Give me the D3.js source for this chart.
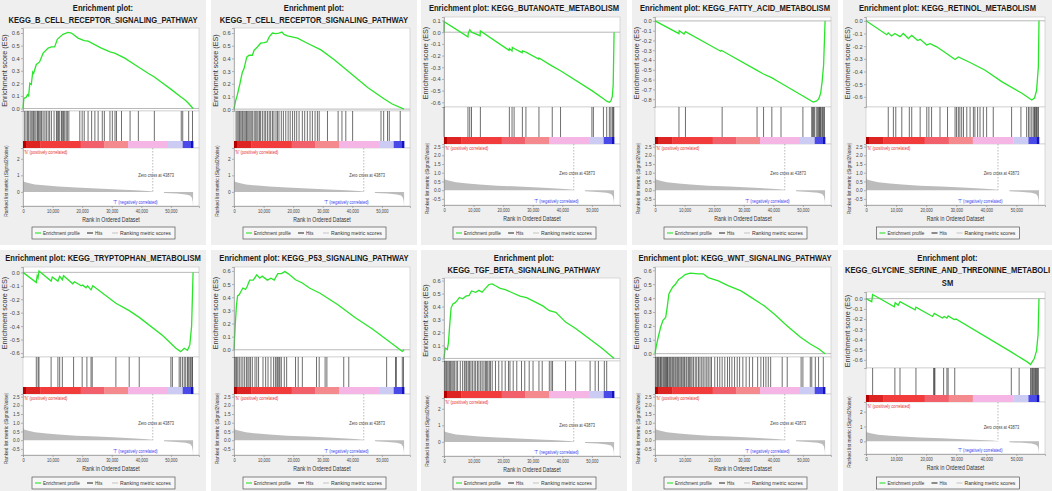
<!DOCTYPE html>
<html>
<head>
<meta charset="utf-8">
<script src="https://cdn.jsdelivr.net/npm/d3@7"></script>
<style>
  body { margin: 0; background: #fff; }
  text { font-family: "Liberation Sans", Arial, sans-serif; }
</style>
</head>
<body>
<svg id="chart" width="1052" height="491"></svg>
<script>
// ranks are in thousands (57.5 = 57,500 genes in the ordered list)
const N = 57.5;
const zeroCross = 43.873;

const titles = [
  ["Enrichment plot:", "KEGG_B_CELL_RECEPTOR_SIGNALING_PATHWAY"],
  ["Enrichment plot:", "KEGG_T_CELL_RECEPTOR_SIGNALING_PATHWAY"],
  ["Enrichment plot: KEGG_BUTANOATE_METABOLISM"],
  ["Enrichment plot: KEGG_FATTY_ACID_METABOLISM"],
  ["Enrichment plot: KEGG_RETINOL_METABOLISM"],
  ["Enrichment plot: KEGG_TRYPTOPHAN_METABOLISM"],
  ["Enrichment plot: KEGG_P53_SIGNALING_PATHWAY"],
  ["Enrichment plot:", "KEGG_TGF_BETA_SIGNALING_PATHWAY"],
  ["Enrichment plot: KEGG_WNT_SIGNALING_PATHWAY"],
  ["Enrichment plot:", "KEGG_GLYCINE_SERINE_AND_THREONINE_METABOLI", "SM"]
];

// running enrichment score: [rank (k), ES]
const esBcell = [[0,0],[0.3,0.08],[1.1,0.09],[1.5,0.11],[1.9,0.1],[2.3,0.2],[2.8,0.19],[3.3,0.29],[3.6,0.28],[4.5,0.35],[5.6,0.37],[6.8,0.44],[8.5,0.48],[9.6,0.49],[10.7,0.49],[11.6,0.55],[13.5,0.59],[15.2,0.605],[16.4,0.6],[18.6,0.56],[20.7,0.54],[22.0,0.535],[26.5,0.48],[29.4,0.45],[31.0,0.44],[34.4,0.4],[39.0,0.33],[42.3,0.28],[44.4,0.25],[50.2,0.15],[53.5,0.09],[54.7,0.07],[56.0,0.04],[57.5,0]];
const esTcell = [[0,0],[0.6,0.07],[1.1,0.11],[2.0,0.2],[2.8,0.29],[3.4,0.32],[4.3,0.41],[5.1,0.425],[6.2,0.425],[6.8,0.465],[7.9,0.49],[9.0,0.52],[10.2,0.525],[11.1,0.53],[11.9,0.57],[13.0,0.6],[14.1,0.595],[15.2,0.6],[16.2,0.608],[16.9,0.59],[18.1,0.578],[21.5,0.56],[24.8,0.52],[29.4,0.467],[33.9,0.39],[39.5,0.28],[45.2,0.17],[50.8,0.08],[53.5,0.04],[57.5,0]];
const esButanoate = [[0,0],[0.05,0.09],[8.1,-0.04],[8.2,-0.01],[8.7,0.02],[9.3,0.0],[12.2,-0.03],[12.3,0.01],[22.0,-0.155],[22.1,-0.14],[23.0,-0.16],[23.1,-0.13],[23.7,-0.14],[26.4,-0.175],[26.5,-0.16],[27.7,-0.17],[32.0,-0.23],[32.1,-0.22],[36.6,-0.29],[39.4,-0.33],[50.0,-0.5],[53.9,-0.57],[55.0,-0.59],[55.9,-0.6],[56.4,-0.59],[56.9,-0.55],[57.2,-0.45],[57.5,0]];
const esFatty = [[0,0],[8.1,-0.13],[8.2,-0.1],[9.8,-0.135],[10.3,-0.11],[22.2,-0.31],[22.4,-0.3],[34.2,-0.5],[36.5,-0.54],[39.4,-0.58],[42.2,-0.63],[49.0,-0.75],[53.5,-0.83],[54.5,-0.82],[55.3,-0.8],[56.0,-0.74],[56.5,-0.62],[57.0,-0.45],[57.5,0]];
const esRetinol = [[0,0],[6.9,-0.11],[7.4,-0.095],[8.5,-0.12],[9.6,-0.1],[11.3,-0.125],[12.4,-0.1],[14.1,-0.14],[15.2,-0.115],[17.2,-0.155],[18.0,-0.145],[20.2,-0.19],[21.3,-0.18],[23.5,-0.205],[26.3,-0.25],[29.6,-0.305],[30.7,-0.285],[35.1,-0.335],[39.6,-0.39],[45.1,-0.48],[51.7,-0.57],[55.1,-0.625],[56.0,-0.61],[56.7,-0.55],[57.3,-0.36],[57.5,0]];
const esTrypto = [[0,0],[4.5,-0.075],[4.8,-0.025],[5.1,-0.04],[5.4,0.01],[9.5,-0.065],[9.9,-0.035],[11.8,-0.065],[12.4,-0.03],[13.3,-0.055],[13.7,-0.025],[16.8,-0.085],[17.4,-0.07],[19.7,-0.1],[20.2,-0.095],[21.3,-0.115],[21.8,-0.1],[23.0,-0.13],[23.6,-0.1],[31.4,-0.23],[35.9,-0.285],[39.3,-0.335],[47.2,-0.47],[51.7,-0.565],[53.3,-0.59],[54.5,-0.565],[55.6,-0.58],[56.4,-0.54],[57.0,-0.4],[57.5,0]];
const esP53 = [[0,0],[0.4,0.18],[0.8,0.33],[1.2,0.41],[1.8,0.42],[2.4,0.445],[3.0,0.47],[3.9,0.46],[4.4,0.48],[5.3,0.53],[6.5,0.53],[7.7,0.57],[8.7,0.545],[9.5,0.56],[11.3,0.53],[12.5,0.545],[13.6,0.53],[14.8,0.58],[16.0,0.58],[17.2,0.595],[18.4,0.578],[20.8,0.533],[23.1,0.508],[25.5,0.47],[29.1,0.43],[35.0,0.345],[40.9,0.245],[46.8,0.158],[52.8,0.058],[55.7,0.008],[56.9,-0.013],[57.5,0]];
const esTgf = [[0,0],[0.4,0.08],[1.1,0.068],[1.5,0.12],[2.0,0.28],[2.4,0.39],[3.0,0.42],[3.8,0.43],[4.4,0.445],[5.2,0.47],[6.3,0.46],[7.4,0.48],[8.5,0.485],[9.3,0.52],[10.7,0.51],[11.8,0.525],[12.9,0.51],[14.0,0.54],[15.2,0.57],[16.3,0.575],[17.4,0.56],[19.0,0.54],[20.7,0.53],[22.9,0.508],[25.7,0.48],[27.9,0.468],[30.1,0.443],[33.4,0.405],[35.6,0.368],[37.8,0.355],[41.1,0.28],[44.5,0.23],[48.9,0.155],[53.3,0.08],[57.5,0]];
const esWnt = [[0,0],[0.4,0.05],[1.1,0.12],[1.9,0.19],[2.7,0.24],[3.6,0.26],[4.1,0.33],[4.7,0.43],[5.2,0.45],[6.0,0.48],[6.9,0.5],[8.0,0.535],[9.1,0.55],[10.2,0.57],[11.9,0.58],[14.7,0.575],[16.3,0.575],[18.0,0.548],[21.4,0.524],[24.7,0.49],[29.1,0.452],[32.5,0.405],[36.9,0.345],[40.3,0.285],[44.7,0.2],[49.1,0.12],[52.5,0.07],[55.3,0.035],[57.5,0]];
const esGlycine = [[0,0],[1.9,-0.03],[2.2,0.04],[9.4,-0.08],[9.7,-0.04],[10.7,-0.065],[11.3,-0.03],[16.3,-0.11],[16.6,-0.085],[22.1,-0.175],[22.7,-0.145],[25.4,-0.19],[26.0,-0.175],[26.9,-0.19],[27.3,-0.17],[29.3,-0.205],[29.9,-0.2],[48.1,-0.52],[53.6,-0.62],[54.7,-0.645],[55.9,-0.59],[56.7,-0.51],[57.2,-0.35],[57.5,0]];

// gene set members in the ranked list (rank, k)
const hitsBcell = [0.45,1.0,1.5,1.9,2.4,2.8,3.3,3.6,4.0,4.4,4.9,5.2,5.5,6.0,6.3,6.8,7.4,7.9,8.5,9.0,9.6,10.5,11.3,11.6,12.0,12.4,13.0,13.3,13.7,14.1,14.6,15.0,15.5,19.2,20.0,20.7,22.0,23.2,24.3,25.4,26.8,27.5,29.4,30.2,31.1,31.6,33.3,36.2,39.0,44.4,53.5,54.0,56.0,57.3];
const hitsTcell = [0.7,1.1,1.6,1.9,2.3,2.7,3.0,3.4,3.8,4.2,4.5,5.0,5.4,5.8,6.2,6.8,7.2,7.7,8.1,8.6,9.0,9.6,10.2,10.7,11.3,11.9,12.4,13.0,13.5,14.2,14.7,15.2,16.0,16.7,17.5,18.3,19.0,19.8,20.5,21.2,22.0,23.1,23.9,24.8,25.7,26.5,27.4,28.2,28.8,31.6,35.2,36.5,37.8,40.1,49.7,50.6,51.9,52.5,56.2];
const hitsButanoate = [0.05,8.1,8.7,9.3,12.3,22.1,23.0,23.7,26.5,27.7,32.1,36.6,39.4,50.0,50.5,53.9,55.0,55.9,56.4,56.9,57.2,57.4];
const hitsFatty = [8.1,10.3,22.7,34.5,36.7,39.5,42.6,50.0,53.0,53.2,53.6,53.9,54.5,54.9,55.3,55.6,55.8,56.0,56.4,56.7,56.9,57.3];
const hitsRetinol = [7.4,9.1,9.9,11.9,14.4,15.2,18.0,20.2,20.9,21.8,24.6,27.1,29.6,30.1,30.7,31.2,31.8,32.4,33.5,34.6,35.7,36.2,37.1,37.9,39.0,40.1,42.3,48.4,51.5,53.4,54.0,54.5,55.1,55.6,56.0,56.2,56.5,56.7,57.1,57.3];
const hitsTrypto = [4.5,5.1,5.4,9.5,11.8,12.4,13.3,17.1,20.0,21.6,23.0,23.4,31.4,35.9,39.3,50.0,50.5,52.8,53.3,53.9,54.5,55.0,55.6,55.9,56.4,56.7,57.1,57.3];
const hitsP53 = [0.2,0.6,0.9,1.3,1.8,2.4,3.0,3.6,4.2,4.7,5.1,5.6,6.2,7.1,7.7,8.3,9.8,10.7,11.5,12.5,13.4,14.0,14.5,14.8,15.2,15.5,16.0,17.0,17.8,20.8,21.7,23.1,27.9,28.8,30.8,31.4,37.1,38.8,51.6,54.6,54.9,56.9,57.3];
const hitsTgf = [0.2,0.6,0.9,1.3,1.7,2.0,2.3,2.7,3.1,3.5,4.1,4.6,5.5,6.3,6.9,7.4,7.7,8.2,8.6,9.1,9.6,10.2,10.7,11.3,11.8,12.4,12.9,13.5,14.0,14.4,14.8,15.3,15.7,16.3,17.4,18.5,19.6,20.7,21.8,22.3,23.4,24.6,26.2,27.3,28.8,30.1,32.1,33.2,35.6,36.2,36.7,41.1,44.5,49.4,51.1,52.2,54.2,55.0];
const hitsWnt = [0.2,0.6,0.9,1.1,1.4,1.8,2.0,2.3,2.7,3.0,3.3,3.6,3.9,4.2,4.4,4.8,5.1,5.4,5.8,6.1,6.4,6.8,7.1,7.5,7.8,8.1,8.5,8.9,9.2,9.7,10.0,10.5,10.8,11.3,11.7,12.1,12.5,13.0,13.6,14.1,14.7,15.2,15.8,16.3,16.9,17.5,18.0,18.6,19.1,20.2,21.1,21.9,22.7,23.6,24.5,25.2,26.0,26.9,27.8,28.6,29.7,30.8,31.9,33.0,34.7,35.8,36.7,37.5,38.3,39.1,43.0,44.7,49.4,50.0,52.5,53.0,54.2,55.3,56.9];
const hitsGlycine = [2.2,9.6,11.3,16.6,22.5,22.7,22.9,25.8,26.9,27.3,29.5,48.3,50.9,54.7,55.1,55.3,55.6,55.9,56.2,56.4,56.7,57.0,57.3];

// ES axis ticks and ranges
const ticksUp = [0, 0.1, 0.2, 0.3, 0.4, 0.5, 0.6];
const ticksDown6 = [0, -0.1, -0.2, -0.3, -0.4, -0.5, -0.6];
const ticksButanoate = [0.1, 0, -0.1, -0.2, -0.3, -0.4, -0.5, -0.6];
const ticksFatty = [0, -0.1, -0.2, -0.3, -0.4, -0.5, -0.6, -0.7, -0.8];
const esRanges = [[-0.02,0.64],[-0.015,0.64],[-0.64,0.13],[-0.88,0.04],[-0.68,0.03],
                  [-0.63,0.04],[-0.055,0.63],[-0.02,0.62],[-0.024,0.624],[-0.68,0.065]];

// ranked list metric (Signal2Noise), shared by all panels: [rank (k), value]
const metric = [[0,0.75],[0.3,0.62],[1.5,0.55],[4,0.45],[8,0.38],[12,0.32],[18,0.26],[25,0.21],[32,0.15],[38,0.1],[42,0.06],[43.8,0.02],[43.9,0],[47.6,0],[47.7,-0.06],[52,-0.1],[55,-0.15],[56.5,-0.22],[57.1,-0.35],[57.4,-0.6],[57.5,-1.0]];
const metricTicksFine = [2.5, 2, 1.5, 1, 0.5, 0, -0.5];
const metricTicksCoarse = [2, 1, 0];

// colour bar of the ranked list
const barBreaks = [0, 1.0, 5.8, 19.5, 27.5, 35.5, 49.0, 54.0, 56.8, 57.5];
const barFills = ["#b50000", "#de2323", "#f23c3c", "#f2606b", "#f48a8e", "#f5b6e6", "#cbcbf3", "#4a4ae8", "#1212bf"];

const xTicks = [0, 10, 20, 30, 40, 50];

const panels = [
  { es: esBcell, hits: hitsBcell, ticks: ticksUp },
  { es: esTcell, hits: hitsTcell, ticks: ticksUp },
  { es: esButanoate, hits: hitsButanoate, ticks: ticksButanoate },
  { es: esFatty, hits: hitsFatty, ticks: ticksFatty },
  { es: esRetinol, hits: hitsRetinol, ticks: ticksDown6 },
  { es: esTrypto, hits: hitsTrypto, ticks: ticksDown6 },
  { es: esP53, hits: hitsP53, ticks: ticksUp },
  { es: esTgf, hits: hitsTgf, ticks: ticksUp },
  { es: esWnt, hits: hitsWnt, ticks: ticksUp },
  { es: esGlycine, hits: hitsGlycine, ticks: ticksDown6 }
].map((p, i) => ({ ...p, title: titles[i], range: esRanges[i] }));

// ---- layout ----
const colX = [0, 211, 421, 632, 843];
const colW = [206, 206, 206, 206, 209];
const rowY = [0, 250];
const rowH = [245, 241];
// vertical bands depend on how many lines the title takes
const bands = {
  1: { esTop: 17, esBottom: 107, hitsBottom: 137, barBottom: 144, rankBottom: 205 },
  2: { esTop: 28, esBottom: 111, hitsBottom: 141, barBottom: 148, rankBottom: 206 },
  3: { esTop: 42, esBottom: 118, hitsBottom: 145, barBottom: 152, rankBottom: 204 }
};

const svg = d3.select("#chart");
const FONT = "'Liberation Sans', Arial, sans-serif";

// text narrowed horizontally with a transform (the source images were squeezed)
function label(g, o) {
  const t = g.append("text")
    .attr("text-anchor", o.anchor || "start")
    .attr("font-size", o.size)
    .attr("font-weight", o.weight || null)
    .attr("fill", o.fill || "#333")
    .text(o.text);
  const natural = t.node().getComputedTextLength();
  let k = o.k || 1;
  if (o.width) k = o.width / natural;
  if (o.maxW) k = Math.min(k, o.maxW / natural);
  const rot = o.rotate ? ` rotate(${o.rotate})` : "";
  t.attr("transform", `translate(${o.x},${o.y})${rot} scale(${k},1)`);
  return t;
}

function styleAxis(ax, fs, k) {
  ax.attr("font-family", FONT);
  ax.select(".domain").attr("stroke", "#8a8a8a").attr("stroke-width", 0.6);
  ax.selectAll(".tick line").attr("stroke", "#8a8a8a").attr("stroke-width", 0.6);
  ax.selectAll(".tick text").attr("font-size", fs).attr("fill", "#444")
    .attr("transform", `scale(${k},1)`);
}

function drawPanel(g, p, w, h) {
  const B = bands[p.title.length];
  const left = 23, right = w - 7;

  g.append("rect").attr("width", w).attr("height", h).attr("fill", "#efefef");

  p.title.forEach((t, i) => {
    label(g, { x: w / 2, y: 10.5 + i * 12.5, text: t, anchor: "middle",
      size: 9.5, weight: "bold", fill: "#1a1a1a", k: 0.8, maxW: w - 3 });
  });

  const x = d3.scaleLinear().domain([0, 59.5]).range([left, right]);
  const y = d3.scaleLinear().domain(p.range).range([B.esBottom, B.esTop]);
  const yr = d3.scaleLinear().domain([-0.85, 2.65]).range([B.rankBottom, B.barBottom]);

  // plot backgrounds
  [[B.esTop, B.esBottom], [B.esBottom, B.barBottom], [B.barBottom, B.rankBottom]].forEach(([t, b]) => {
    g.append("rect").attr("x", left).attr("y", t)
      .attr("width", right - left).attr("height", b - t)
      .attr("fill", "#fff").attr("stroke", "#c4c4c4").attr("stroke-width", 0.6);
  });

  // ES zero line
  g.append("line").attr("x1", left).attr("x2", right)
    .attr("y1", y(0)).attr("y2", y(0))
    .attr("stroke", "#9a9a9a").attr("stroke-width", 0.7);

  // running ES
  g.append("path").datum(p.es)
    .attr("d", d3.line().x(d => x(d[0])).y(d => y(d[1])))
    .attr("fill", "none").attr("stroke", "#2be52b").attr("stroke-width", 1.3);

  const ay = g.append("g").attr("transform", `translate(${left},0)`)
    .call(d3.axisLeft(y).tickValues(p.ticks).tickSize(2).tickPadding(1.5)
      .tickFormat(d => d.toFixed(1)));
  styleAxis(ay, 6, 0.95);

  // hits
  g.append("g").selectAll("line").data(p.hits).join("line")
    .attr("x1", d => x(d)).attr("x2", d => x(d))
    .attr("y1", B.esBottom).attr("y2", B.hitsBottom)
    .attr("stroke", "#1c1c1c").attr("stroke-width", 0.8).attr("stroke-opacity", 0.8);

  // colour bar
  g.append("g").selectAll("rect").data(barFills).join("rect")
    .attr("x", (d, i) => x(barBreaks[i]))
    .attr("width", (d, i) => x(barBreaks[i + 1]) - x(barBreaks[i]) + 0.3)
    .attr("y", B.hitsBottom).attr("height", B.barBottom - B.hitsBottom)
    .attr("fill", d => d);

  // ranked list metric
  g.append("path").datum(metric)
    .attr("d", d3.area().x(d => x(d[0])).y0(yr(0)).y1(d => yr(d[1])))
    .attr("fill", "#bcbcbc");

  g.append("line").attr("x1", x(zeroCross)).attr("x2", x(zeroCross))
    .attr("y1", B.barBottom).attr("y2", yr(0))
    .attr("stroke", "#8a8a8a").attr("stroke-width", 0.6).attr("stroke-dasharray", "1.5,1.5");

  label(g, { x: left + 1, y: B.barBottom + 5.5, text: "'N' (positively correlated)",
    size: 5, fill: "#e63030", k: 0.8 });
  label(g, { x: x(45), y: yr(1.0) + 2, text: "Zero cross at 43873", anchor: "middle",
    size: 5, fill: "#444", k: 0.8 });
  label(g, { x: x(38), y: B.rankBottom - 2, text: "'T' (negatively correlated)", anchor: "middle",
    size: 5, fill: "#3c3cf0", k: 0.8 });

  const fine = p.title.length === 1;
  const ar = g.append("g").attr("transform", `translate(${left},0)`)
    .call(d3.axisLeft(yr).tickValues(fine ? metricTicksFine : metricTicksCoarse)
      .tickSize(2).tickPadding(1.5).tickFormat(d => fine ? d.toFixed(1) : String(d)));
  styleAxis(ar, 5, 0.95);

  const ax = g.append("g").attr("transform", `translate(0,${B.rankBottom})`)
    .call(d3.axisBottom(x).tickValues(xTicks).tickSize(2).tickPadding(1.5)
      .tickFormat(d => d3.format(",")(d * 1000)));
  styleAxis(ax, 5, 0.8);

  // axis titles
  label(g, { x: (left + right) / 2, y: B.rankBottom + 16, text: "Rank in Ordered Dataset",
    anchor: "middle", size: 6.5, fill: "#333", k: 0.8 });
  label(g, { x: 6.5, y: (B.esTop + B.esBottom) / 2 + 1, rotate: -90, text: "Enrichment score (ES)",
    anchor: "middle", size: 8, fill: "#333", k: 0.9 });
  label(g, { x: 7.5, y: (B.barBottom + B.rankBottom) / 2 + 4, rotate: -90,
    text: "Ranked list metric (Signal2Noise)", anchor: "middle", size: 5.5, fill: "#333", k: 0.88 });

  // legend
  const bx = w / 2 - 71, by = 227;
  const lg = g.append("g").attr("transform", `translate(${bx},${by})`);
  lg.append("rect").attr("width", 143).attr("height", 12)
    .attr("fill", "#f6f6f6").attr("stroke", "#555").attr("stroke-width", 0.7);
  const items = [
    { x0: 3, col: "#2be52b", text: "Enrichment profile", tw: 37 },
    { x0: 55, col: "#333", text: "Hits", tw: 7.5 },
    { x0: 80, col: "#c8c8c8", text: "Ranking metric scores", tw: 51 }
  ];
  items.forEach(it => {
    lg.append("line").attr("x1", it.x0).attr("x2", it.x0 + 6).attr("y1", 6).attr("y2", 6)
      .attr("stroke", it.col).attr("stroke-width", 1.1);
    label(lg, { x: it.x0 + 8, y: 8, text: it.text, size: 5.5, fill: "#333", width: it.tw });
  });
}

panels.forEach((p, i) => {
  const r = Math.floor(i / 5), c = i % 5;
  const g = svg.append("g").attr("transform", `translate(${colX[c]},${rowY[r]})`);
  drawPanel(g, p, colW[c], rowH[r]);
});
</script>
</body>
</html>
